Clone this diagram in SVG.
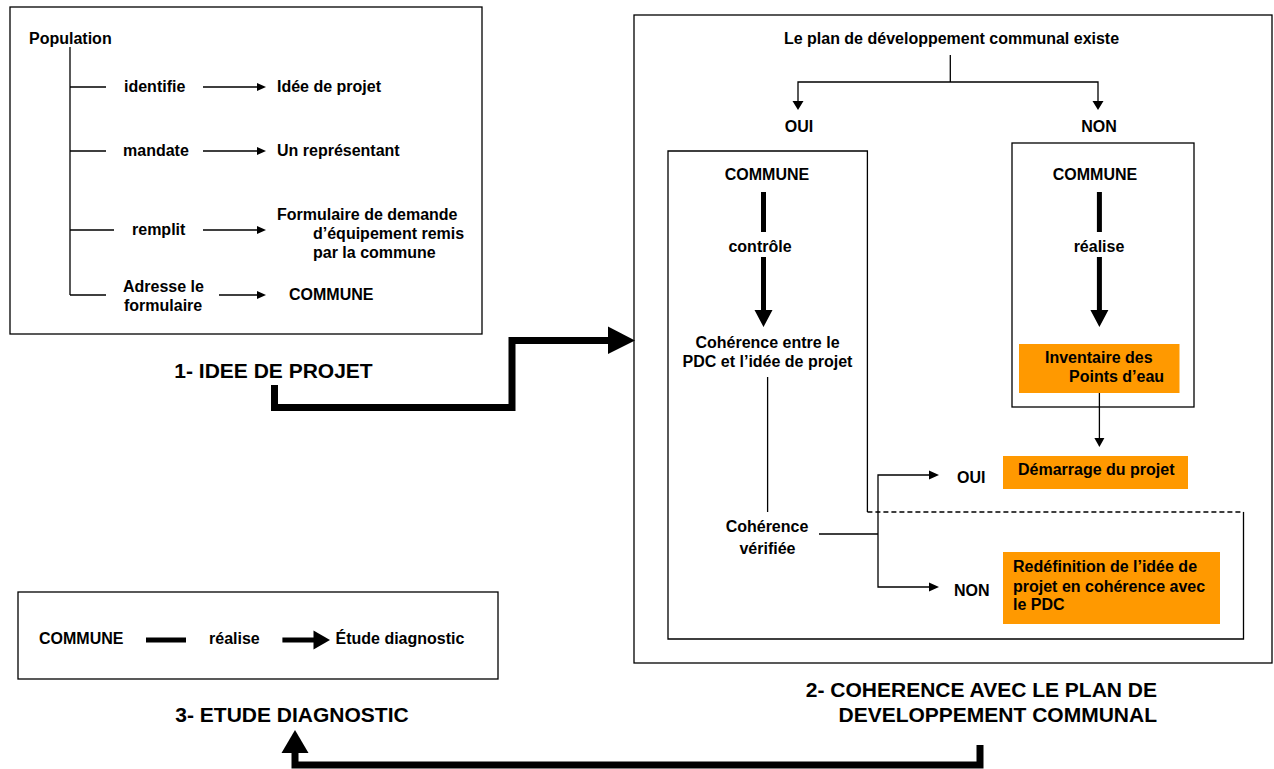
<svg xmlns="http://www.w3.org/2000/svg" width="1274" height="769" viewBox="0 0 1274 769">
<style>
text{font-family:"Liberation Sans",Arial,sans-serif;font-weight:bold;font-size:16px;fill:#000}
.t{font-size:21px}
.m{text-anchor:middle}
.e{text-anchor:end}
.box{fill:#fff;stroke:#000;stroke-width:1.3}
.ln{fill:none;stroke:#000;stroke-width:1.3}
.dash{fill:none;stroke:#000;stroke-width:1.3;stroke-dasharray:5,3}
.thk{fill:none;stroke:#000;stroke-width:5}
.big{fill:none;stroke:#000;stroke-width:7}
.or{fill:#FF9900}
.hd{fill:#000}
</style>
<rect width="1274" height="769" fill="#fff"/>

<g id="box1">
<rect class="box" x="10" y="7" width="472" height="327"/>
<text x="29" y="44">Population</text>
<text x="124" y="92">identifie</text>
<text x="277" y="92">Idée de projet</text>
<text x="123" y="156">mandate</text>
<text x="277" y="156">Un représentant</text>
<text x="132" y="235">remplit</text>
<text x="277" y="220">Formulaire de demande</text>
<text x="313" y="239">d’équipement remis</text>
<text x="313" y="258">par la commune</text>
<text x="123" y="292">Adresse le</text>
<text x="124" y="311">formulaire</text>
<text x="289" y="300">COMMUNE</text>
</g>
<g id="title1"><text class="t m" x="273.5" y="378">1- IDEE DE PROJET</text></g>

<g id="box2">
<rect class="box" x="634" y="15" width="638" height="648"/>
</g>
<g id="pdc-existe"><text class="m" x="951.5" y="44">Le plan de développement communal existe</text></g>
<g id="oui-top"><text class="m" x="799" y="132">OUI</text></g>
<g id="non-top"><text class="m" x="1099" y="132">NON</text></g>

<g id="box-oui">
<path class="ln" d="M867.4,512 V151 H668 V639 H1243.5 V512"/>
<line class="dash" x1="867.4" y1="512" x2="1243.5" y2="512"/>
<text class="m" x="767" y="180">COMMUNE</text>
<text class="m" x="760" y="252">contrôle</text>
<text class="m" x="767.5" y="348">Cohérence entre le</text>
<text class="m" x="767.5" y="367">PDC et l’idée de projet</text>
<text class="m" x="767" y="532">Cohérence</text>
<text class="m" x="767.5" y="554">vérifiée</text>
</g>

<g id="box-non">
<rect class="box" x="1012" y="143" width="182" height="264"/>
<text class="m" x="1095" y="180">COMMUNE</text>
<text class="m" x="1099" y="252">réalise</text>
</g>
<g id="inventaire">
<rect class="or" x="1019" y="344" width="160.5" height="49"/>
<text x="1045" y="363">Inventaire des</text>
<text x="1069" y="382">Points d’eau</text>
</g>
<g id="oui-bas"><text x="957" y="483">OUI</text></g>
<g id="non-bas"><text x="954" y="596">NON</text></g>
<g id="demarrage">
<rect class="or" x="1003" y="456" width="185" height="33"/>
<text x="1018" y="475">Démarrage du projet</text>
</g>
<g id="redefinition">
<rect class="or" x="1003" y="552" width="217" height="72"/>
<text x="1013" y="572">Redéfinition de l’idée de</text>
<text x="1013" y="592">projet en cohérence avec</text>
<text x="1013" y="610">le PDC</text>
</g>
<g id="title2">
<text class="t e" x="1157" y="697">2- COHERENCE AVEC LE PLAN DE</text>
<text class="t e" x="1157" y="722">DEVELOPPEMENT COMMUNAL</text>
</g>

<g id="box3">
<rect class="box" x="18" y="592" width="480" height="87"/>
<text x="39" y="644">COMMUNE</text>
<text x="209" y="644">réalise</text>
<text x="335.5" y="644">Étude diagnostic</text>
</g>
<g id="title3"><text class="t m" x="292" y="722">3- ETUDE DIAGNOSTIC</text></g>

<g id="connectors">
<!-- box 1 tree -->
<path class="ln" d="M70,47 V295 M70,87 H106 M70,151 H106 M70,230 H114 M70,295 H106"/>
<path class="ln" d="M203,87 H258 M203,151 H258 M203,230 H258 M219,295 H258"/>
<path class="hd" d="M257,83 L266,87 L257,91 Z M257,147 L266,151 L257,155 Z M257,226 L266,230 L257,234 Z M257,291 L266,295 L257,299 Z"/>
<!-- split -->
<path class="ln" d="M950.3,55 V82 M798,102 V82 H1098 V102"/>
<path class="hd" d="M792.5,101 L803.5,101 L798,110 Z M1092.5,101 L1103.5,101 L1098,110 Z"/>
<!-- thick commune arrows -->
<path class="thk" d="M763.5,192 V232 M763.5,257 V311 M1099.4,192 V232 M1099.4,257 V311"/>
<path class="hd" d="M754.5,310 L772.5,310 L763.5,327 Z M1090.4,310 L1108.4,310 L1099.4,327 Z"/>
<!-- inventaire to demarrage -->
<path class="ln" d="M1099.4,393 V439"/>
<path class="hd" d="M1094.4,438 L1104.4,438 L1099.4,447 Z"/>
<!-- coherence -->
<path class="ln" d="M767.6,377 V512"/>
<path class="ln" d="M819,534 H878 M930,475 H878 V587 H930"/>
<path class="hd" d="M929,470.5 L939,475 L929,479.5 Z M929,582.5 L939,587 L929,591.5 Z"/>
<!-- box3 -->
<path class="thk" d="M146,640 H186 M282.4,640 H314"/>
<path class="hd" d="M313.5,630.5 L330,640 L313.5,649.5 Z"/>
<!-- big connectors -->
<path class="big" d="M274.5,385 V407.5 H512 V340.5 H609"/>
<path class="hd" d="M608,326.5 L635,340.5 L608,354 Z"/>
<path class="big" d="M980,745 V765 H295 V752"/>
<path class="hd" d="M281.5,753 L308.5,753 L295,730 Z"/>
</g>
</svg>
